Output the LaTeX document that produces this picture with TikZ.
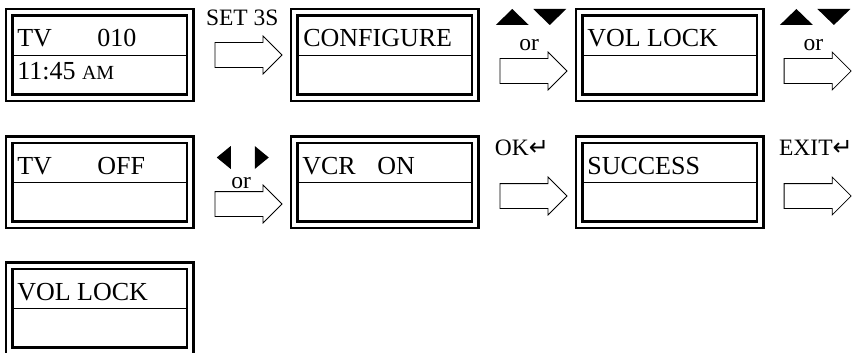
\documentclass[tikz,border=0pt]{standalone}
\usepackage{fontspec}
\setmainfont{Liberation Serif}
\newfontfamily\symfont{DejaVu Sans}
\usetikzlibrary{shapes.arrows,calc}

\begin{document}
\begin{tikzpicture}
[x=1pt,y=-1pt,
  screenDecorate/.style={shape=rectangle,draw,double,line width=2.3pt,double distance=4pt,
    minimum width=181pt,minimum height=85pt,inner sep=0pt},%
  arrowDecorate/.style={shape=single arrow,draw,line width=0.8pt,single arrow head extend=6.5pt,
    single arrow head indent=0pt,minimum height=67pt,inner xsep=0pt,inner ysep=12pt},%
  textDecorate/.style={anchor=base west,inner sep=0pt,font=\fontsize{26}{30}\selectfont},%
  labelDecorate/.style={anchor=base,inner sep=0pt,font=\fontsize{23.5}{27}\selectfont}]
\useasboundingbox (0,0) rectangle (856,353);
\clip (0,0) rectangle (856,353);
%% screens
\foreach \nodename/\x/\y in {
  s1/99.75/55, s2/384.75/55, s3/669.75/55,
  s4/99.75/182, s5/384.75/182, s6/669.75/182, s7/99.75/308}
{
  \node (\nodename) at (\x,\y) [screenDecorate] {};
  \draw[line width=0.8pt] ([xshift=3pt]\nodename.west) -- ([xshift=-3pt]\nodename.east);
}
%% screen texts
\node (t1) at ([xshift=9pt,yshift=8pt]s1.west) [textDecorate] {\makebox[80pt][l]{TV}010};
\node (t1b) at ([xshift=9pt,yshift=-24pt]s1.west) [textDecorate] {11:45 {\fontsize{20}{22}\selectfont AM}};
\node (t2) at ([xshift=10pt,yshift=8pt]s2.west) [textDecorate] {CONFIGURE};
\node (t3) at ([xshift=9pt,yshift=8pt]s3.west) [textDecorate] {VOL LOCK};
\node (t4) at ([xshift=9pt,yshift=8pt]s4.west) [textDecorate] {\makebox[80pt][l]{TV}OFF};
\node (t5) at ([xshift=9pt,yshift=8pt]s5.west) [textDecorate] {\makebox[75pt][l]{VCR}ON};
\node (t6) at ([xshift=9pt,yshift=8pt]s6.west) [textDecorate] {SUCCESS};
\node (t7) at ([xshift=9pt,yshift=8pt]s7.west) [textDecorate] {VOL LOCK};
%% block arrows
\node (a1) at ($(s1.east)!0.5!(s2.west)$) [arrowDecorate] {};
\node (a2) at ($(s2.east)!0.5!(s3.west)+(0,16)$) [arrowDecorate] {};
\node (a3) at ($(s3.east)+(50,16)$) [arrowDecorate] {};
\node (a4) at ($(s4.east)!0.5!(s5.west)+(0,22)$) [arrowDecorate] {};
\node (a5) at ($(s5.east)!0.5!(s6.west)+(0,14)$) [arrowDecorate] {};
\node (a6) at ($(s6.east)+(50,14)$) [arrowDecorate] {};
%% key labels
\node (k1) at ($(a1.center)+(0,-29)$) [labelDecorate] {SET 3S};
\foreach \arrowname in {a2, a3}
{
  \node (or\arrowname) at ($(\arrowname.center)+(2,-20)$) [labelDecorate] {or};
  \fill ($(\arrowname.center)+(-31.5,-46)$) -- ++(33,0) -- ++(-16.5,-16) -- cycle;
  \fill ($(\arrowname.center)+(6,-62)$) -- ++(33,0) -- ++(-16.5,16) -- cycle;
}
\node (ora4) at ($(a4.center)+(-1,-16)$) [labelDecorate] {or};
\fill ($(a4.center)+(-11.5,-58)$) -- ++(0,23) -- ++(-14,-11.5) -- cycle;
\fill ($(a4.center)+(12.5,-58)$) -- ++(0,23) -- ++(14,-11.5) -- cycle;
\node (k5) at ($(a5.center)+(-32.5,-41)$) [labelDecorate,anchor=base west] {OK{\symfont\fontsize{24}{26}\selectfont ↵}};
\node (k6) at ($(a6.center)+(-32.5,-41)$) [labelDecorate,anchor=base west] {EXIT{\symfont\fontsize{24}{26}\selectfont ↵}};
\end{tikzpicture}
\end{document}
